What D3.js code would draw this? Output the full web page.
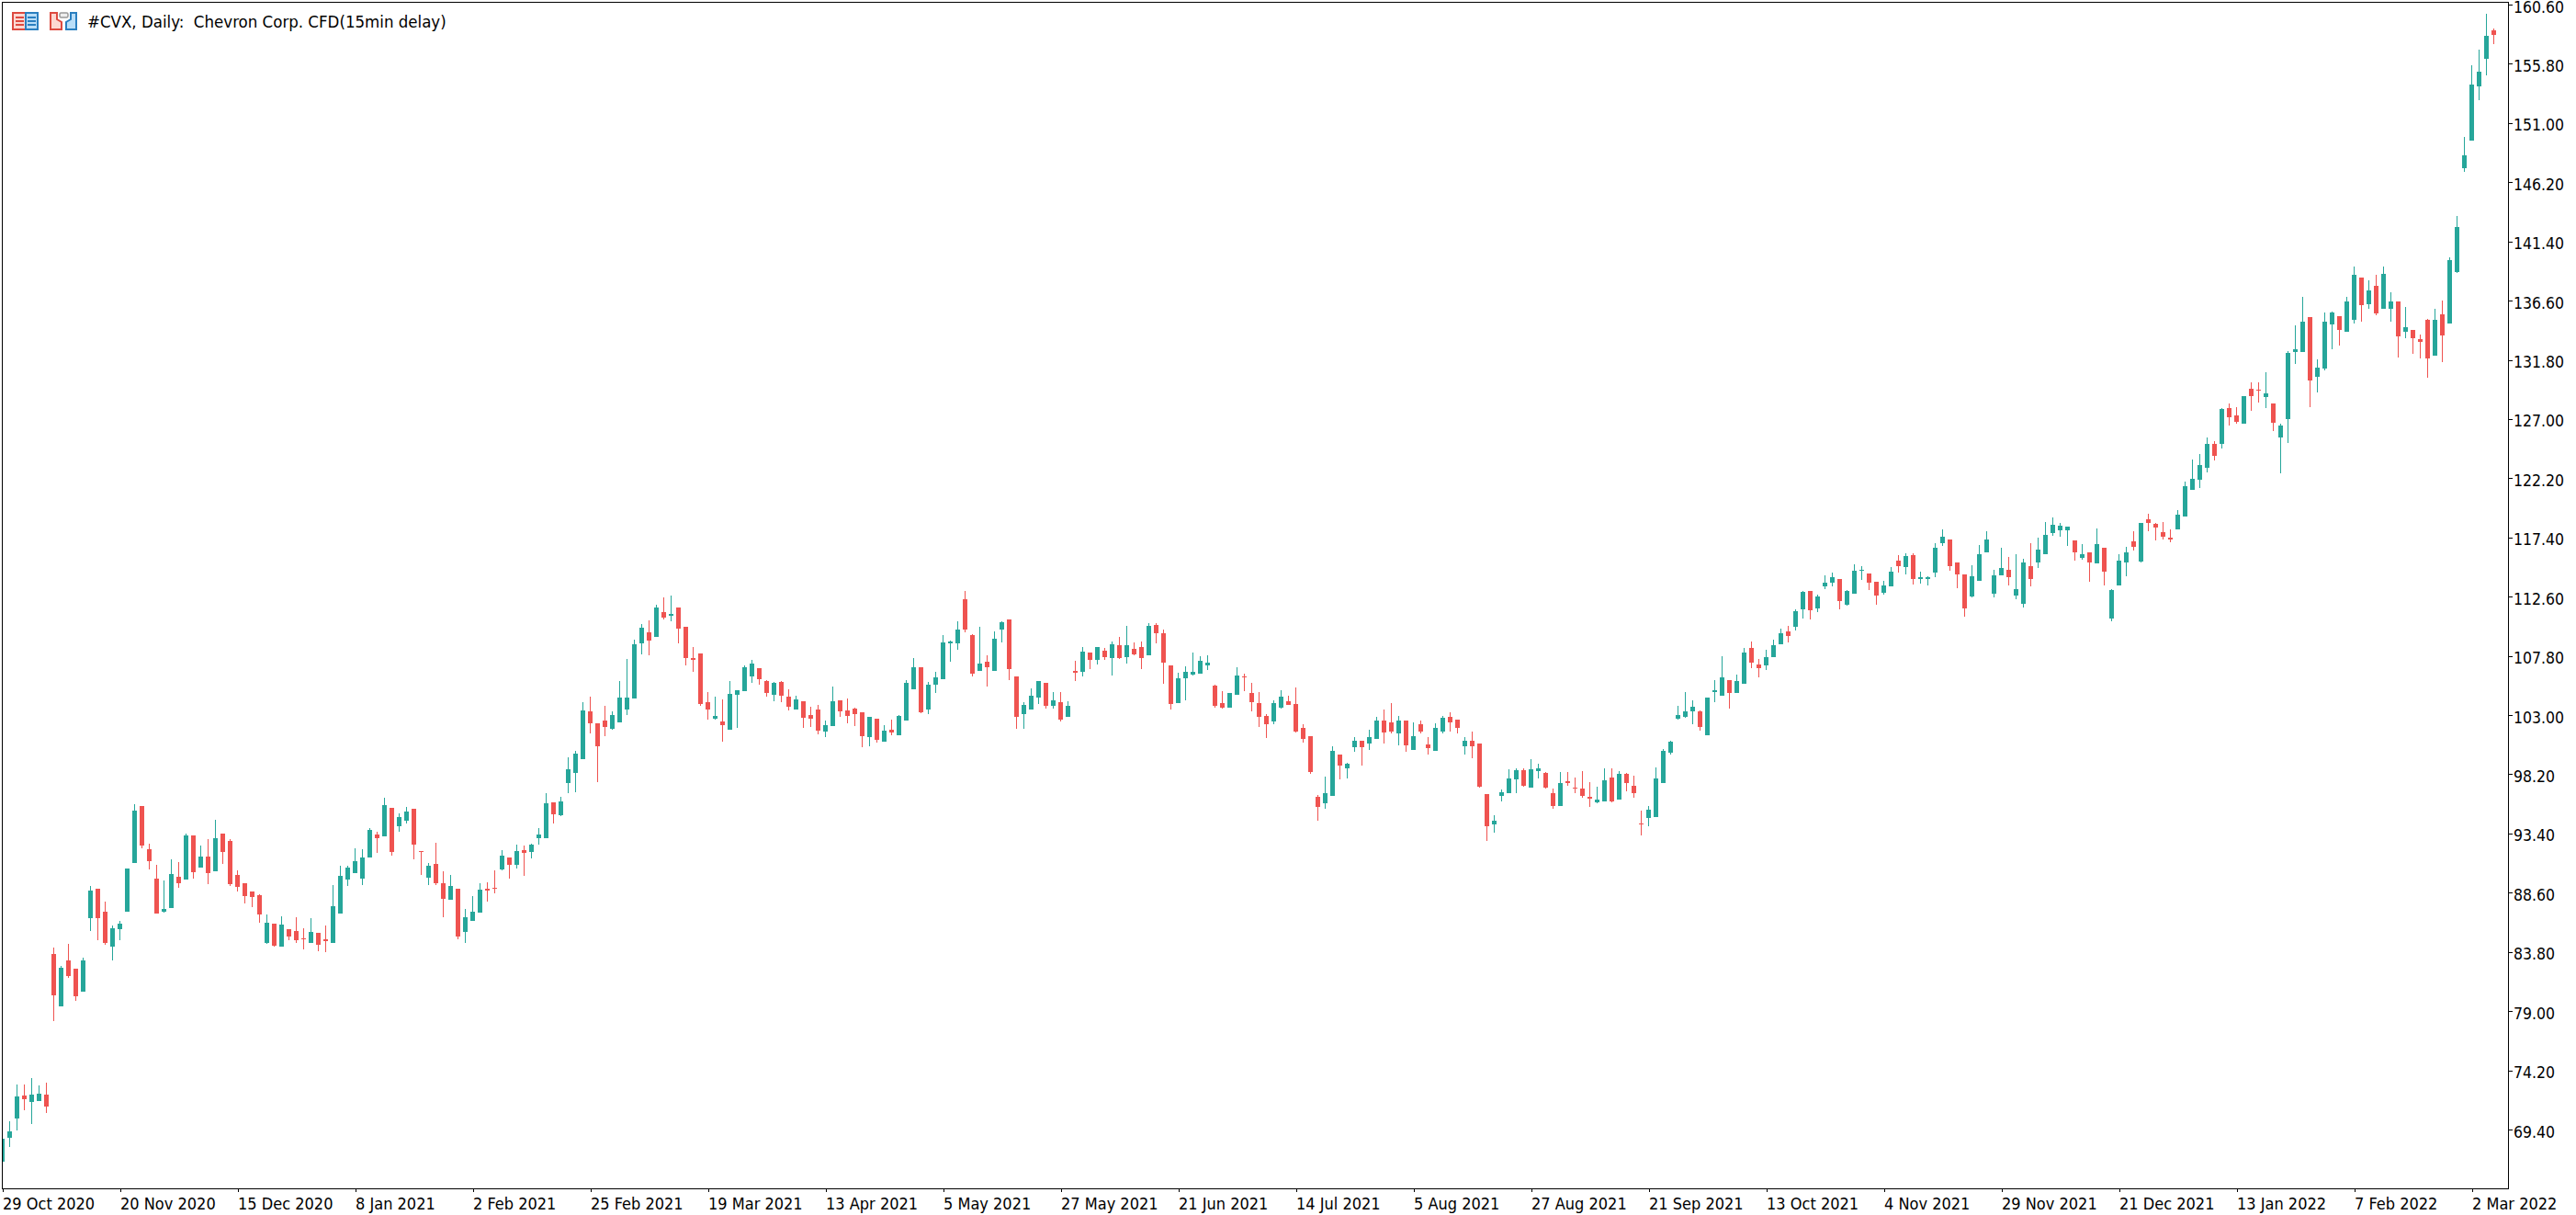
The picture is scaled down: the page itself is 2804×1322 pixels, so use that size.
<!DOCTYPE html>
<html>
<head>
<meta charset="utf-8">
<title>#CVX Daily</title>
<script src="https://cdn.jsdelivr.net/npm/d3@7/dist/d3.min.js"></script>
<style>
  html, body { margin: 0; padding: 0; background: #fff; overflow: hidden; }
  svg { display: block; }
  text { font-family: "DejaVu Sans Condensed", "DejaVu Sans", sans-serif; fill: #000; }
</style>
</head>
<body>
<svg id="chart" width="2804" height="1322"></svg>
<script>
// Daily OHLC prices for #CVX, oldest first.
const opens = [
66.78,68.72,70.29,72.15,71.63,71.70,72.22,83.62,79.38,83.10,
82.43,80.57,86.53,88.92,87.05,84.22,85.64,87.05,91.00,95.62,
92.12,89.74,87.05,87.35,89.88,89.66,93.24,90.63,91.52,90.33,
93.39,92.79,90.03,89.36,88.69,88.39,84.52,86.08,84.22,85.64,
85.49,84.89,84.52,85.34,84.82,84.52,86.90,89.66,90.18,89.74,
91.45,93.31,93.16,95.47,93.98,94.43,95.40,91.97,89.81,90.93,
89.36,88.02,88.91,85.41,86.30,86.97,88.91,88.99,90.48,91.45,
90.85,92.04,91.89,93.01,93.01,95.92,94.87,97.48,98.30,99.42,
103.29,102.33,102.55,101.88,102.40,103.44,104.34,108.81,109.70,109.33,
111.34,111.04,111.72,110.15,107.62,107.99,104.04,102.70,102.47,101.80,
104.64,104.93,106.13,106.80,105.75,104.64,105.68,104.49,103.44,104.11,
103.00,103.44,101.65,102.10,104.19,103.37,103.52,103.22,101.21,102.70,
100.83,101.80,101.36,102.55,105.08,106.87,103.44,105.45,105.90,108.81,
108.81,112.39,109.48,106.57,107.32,106.57,109.93,110.75,106.13,103.07,
103.44,104.41,105.60,103.74,104.04,102.85,106.57,106.50,108.06,107.47,
108.21,107.62,108.66,107.69,108.36,108.51,107.84,110.30,109.63,107.02,
103.96,105.98,106.27,106.35,107.02,105.38,103.96,103.59,104.64,106.13,
104.78,103.96,102.92,102.47,103.59,104.11,103.89,101.95,101.28,96.36,
95.84,96.44,99.79,98.67,100.39,100.91,100.69,101.06,102.55,102.40,
101.51,102.55,100.17,102.25,100.61,100.09,101.66,102.85,102.62,100.46,
100.91,100.69,96.59,94.13,96.44,96.66,97.78,98.53,97.11,98.45,
98.30,96.66,95.62,97.63,97.11,97.04,96.36,95.92,95.99,97.93,
96.14,98.23,97.26,94.20,94.65,94.73,97.48,99.94,102.70,102.85,
103.30,103.30,101.36,104.86,104.56,105.83,104.78,105.53,108.43,107.09,
107.02,107.69,108.73,109.78,110.15,111.56,113.05,111.64,113.43,113.73,
114.02,111.94,112.83,114.69,114.47,113.80,112.91,113.43,115.51,114.99,
115.96,114.02,114.02,114.54,116.93,117.23,115.36,114.40,112.61,113.87,
116.18,112.83,114.32,114.77,112.68,112.01,115.07,115.36,116.04,117.75,
117.97,117.97,117.15,115.74,116.18,115.29,116.56,110.82,113.50,115.36,
117.08,115.44,118.87,118.50,117.83,117.38,118.06,119.10,121.28,122.10,
123.08,125.00,124.95,127.86,127.26,126.65,129.42,129.35,128.75,128.29,
125.54,127.03,132.40,132.40,135.23,130.45,131.12,134.64,135.31,134.05,
135.07,138.44,136.28,137.77,135.90,135.97,136.56,134.05,134.25,133.51,
135.07,132.17,135.46,134.71,138.90,147.33,149.56,153.96,156.19,158.50];

const highs = [
68.65,70.06,73.04,73.04,73.56,72.97,73.19,84.15,82.66,84.44,
82.43,83.33,89.14,88.92,87.87,85.93,86.31,90.55,95.77,95.62,
92.57,90.85,89.59,91.30,91.08,93.39,93.24,92.42,92.94,94.50,
93.39,92.94,90.41,89.36,88.69,88.47,86.83,86.08,86.68,85.64,
86.61,85.71,86.53,85.34,85.93,89.21,90.78,90.78,92.19,92.12,
93.83,93.54,96.29,95.47,95.03,95.55,95.40,91.97,91.00,92.64,
90.33,90.03,88.91,87.27,88.32,89.36,89.43,90.40,92.04,91.45,
92.49,92.41,92.56,93.83,96.66,95.92,96.36,99.57,100.09,104.04,
104.49,102.33,103.74,103.29,105.75,107.54,109.11,110.37,110.67,111.94,
112.53,112.68,111.72,110.15,108.51,107.99,104.86,104.49,104.26,105.75,
105.01,107.02,107.47,106.80,105.83,105.68,105.75,105.08,104.56,104.11,
103.67,103.82,102.55,105.31,104.19,104.34,103.59,103.22,102.85,102.70,
102.18,102.62,103.00,105.83,107.62,106.87,105.68,106.50,109.48,109.03,
110.60,113.06,109.55,110.15,107.84,109.78,110.60,110.75,106.13,104.04,
105.16,105.75,105.60,104.86,104.86,104.11,107.39,108.51,108.06,108.51,
108.44,108.96,109.33,110.22,108.88,108.96,110.45,110.45,109.93,107.02,
106.42,106.95,108.06,107.77,107.84,105.45,104.93,104.78,106.87,106.35,
105.60,104.86,103.07,104.19,105.01,104.56,105.23,102.25,101.28,96.51,
98.00,100.46,99.79,99.12,101.21,100.91,101.80,102.85,103.44,103.97,
102.92,102.55,102.40,102.55,101.21,102.33,102.92,103.22,102.62,101.21,
101.66,100.69,96.59,94.87,96.96,98.60,98.67,98.67,99.42,99.05,
98.38,97.04,98.38,98.38,97.93,98.45,97.56,97.18,98.67,98.67,
98.45,98.30,98.08,95.25,95.62,98.75,100.24,100.91,103.74,104.86,
104.19,103.37,104.41,105.83,107.77,105.83,106.27,108.43,108.96,107.54,
108.29,109.10,110.00,110.22,111.56,113.05,113.05,112.76,114.32,114.54,
114.02,113.13,115.22,115.07,114.47,113.80,113.87,114.99,115.96,116.11,
116.11,114.62,114.25,116.93,118.05,117.23,115.36,114.40,115.14,116.78,
117.90,114.77,116.56,115.81,116.04,115.66,116.93,117.38,118.64,119.02,
118.57,118.27,117.15,116.85,116.18,118.12,116.56,113.20,116.04,116.63,
117.90,118.57,119.31,118.58,118.65,118.06,119.62,121.93,123.75,124.18,
125.47,125.24,127.91,128.29,127.98,128.88,129.94,129.94,130.76,128.29,
126.65,132.48,134.56,136.87,135.23,131.81,135.61,135.69,135.31,136.87,
139.34,138.44,138.21,138.67,139.34,137.26,136.56,136.05,134.25,133.82,
135.15,135.97,136.64,140.08,143.45,149.85,155.68,156.94,159.84,158.66];

const lows = [
66.78,67.98,69.32,70.96,69.84,71.70,70.73,78.18,79.38,81.69,
79.82,80.57,85.49,84.74,84.37,83.10,84.74,87.05,91.00,92.19,
90.48,86.90,86.98,87.35,88.99,89.66,89.74,90.63,89.29,90.33,
90.93,89.14,88.69,87.72,87.43,86.16,84.44,84.22,84.22,84.74,
84.52,84.00,84.52,83.85,83.77,84.52,86.90,89.14,90.18,89.21,
91.45,91.82,93.16,91.60,93.54,94.21,91.30,90.03,89.21,89.21,
86.60,88.02,84.81,84.51,86.30,86.97,87.87,88.54,90.40,89.73,
90.55,89.96,91.37,92.49,93.01,94.20,94.80,96.66,96.74,99.42,
101.51,97.56,101.28,101.80,102.40,103.00,104.34,107.91,107.84,109.33,
110.75,110.60,108.81,107.02,106.50,103.74,102.62,102.62,100.84,101.80,
101.95,104.93,105.60,105.46,104.49,104.11,104.04,103.37,103.44,101.95,
102.03,101.43,101.21,102.10,102.85,102.33,102.10,100.39,100.46,100.76,
100.83,101.36,101.36,102.55,105.08,103.14,103.07,104.78,105.90,107.32,
108.29,109.70,106.13,106.57,105.31,106.57,108.88,105.83,101.88,101.88,
103.44,103.89,103.52,103.52,102.47,102.85,105.75,106.13,106.72,107.09,
107.47,106.20,107.54,107.17,107.84,106.72,107.84,108.81,105.53,103.44,
103.96,104.19,106.20,106.35,106.65,103.59,103.52,103.59,104.64,104.93,
103.29,102.03,101.13,102.25,103.52,103.82,101.58,100.76,98.23,94.43,
95.40,96.44,97.78,97.86,100.02,98.90,100.17,101.06,100.69,101.51,
100.54,100.02,100.17,101.51,99.79,100.09,101.51,101.66,101.51,99.79,
99.49,97.11,92.79,93.46,95.99,96.66,96.66,97.18,97.11,97.86,
97.04,95.40,95.62,97.26,96.66,96.29,95.54,95.84,95.99,95.92,
96.14,96.81,96.29,93.23,93.98,94.73,97.48,99.79,102.62,102.77,
102.25,101.73,101.36,104.04,104.56,103.52,104.78,105.53,106.79,106.05,
106.65,107.69,108.73,108.88,109.85,110.82,110.74,111.34,113.20,113.43,
111.56,111.86,112.83,113.95,113.13,111.94,112.76,113.43,114.54,114.40,
113.58,113.65,113.50,114.17,116.71,114.69,113.28,110.97,112.53,113.87,
116.18,112.53,114.32,113.50,112.38,111.71,113.43,114.92,116.04,117.53,
117.45,116.71,115.51,115.59,113.80,115.29,113.50,110.60,113.50,114.25,
116.33,115.36,117.90,117.16,117.24,117.01,118.06,119.10,121.28,121.43,
122.69,123.67,124.64,126.44,126.65,126.65,127.70,128.37,127.86,126.06,
122.62,125.08,131.43,132.40,127.93,129.19,130.91,132.63,132.99,134.05,
134.71,134.87,135.97,135.38,135.90,134.87,132.02,133.58,132.25,131.94,
130.32,132.17,131.58,134.71,138.83,147.02,149.56,152.83,154.86,157.40];

const closes = [
68.65,69.24,72.07,71.85,72.22,72.30,71.25,80.27,82.51,81.84,
80.20,83.10,88.77,86.53,84.52,85.71,86.08,90.55,95.25,92.42,
91.15,86.90,87.28,90.11,89.36,93.24,90.26,91.52,90.18,93.01,
91.90,89.29,89.06,88.32,88.24,86.83,86.16,84.30,86.01,85.04,
84.74,84.82,85.41,84.37,84.67,87.50,89.96,90.63,91.15,91.45,
93.68,93.01,95.70,91.90,94.73,95.18,92.49,91.90,90.78,89.36,
88.09,89.14,85.04,86.60,87.05,88.84,88.76,88.91,91.59,90.85,
91.97,91.82,92.49,93.31,95.84,94.95,95.99,98.60,99.87,103.37,
102.33,100.46,102.03,103.00,104.41,104.41,108.73,110.08,109.03,111.72,
110.90,111.19,110.00,107.62,107.47,103.89,103.44,102.92,102.18,104.71,
105.01,106.87,107.17,105.90,104.78,105.60,104.56,103.67,104.26,102.77,
102.70,101.73,102.18,104.11,103.29,102.92,103.07,101.28,102.85,100.98,
101.73,101.58,102.92,105.60,106.87,103.22,105.45,106.05,108.88,108.96,
109.93,109.93,106.35,107.17,106.87,109.18,110.52,106.72,102.85,103.82,
104.56,105.75,103.74,104.19,102.62,103.74,106.42,108.14,107.47,108.51,
107.69,108.73,107.62,108.66,107.91,107.62,110.22,109.63,107.24,103.89,
105.98,106.50,106.50,107.39,107.24,103.74,103.59,104.78,106.20,106.05,
104.04,102.85,102.25,103.96,104.49,103.82,101.65,101.06,98.38,95.54,
96.66,100.09,98.90,99.05,100.91,100.39,101.21,102.55,101.58,101.66,
102.55,100.54,101.28,101.66,100.31,101.95,102.77,102.40,101.95,100.91,
100.46,97.18,93.98,94.43,96.74,97.86,98.53,97.26,98.60,98.67,
97.11,95.62,97.48,97.48,97.11,96.44,96.22,96.14,97.71,95.99,
98.23,97.48,96.66,94.13,95.32,97.86,100.09,100.84,103.00,103.30,
103.67,102.03,104.41,105.01,106.05,104.78,105.75,108.06,107.24,106.79,
107.69,108.66,109.63,109.40,111.41,112.98,111.49,112.61,113.73,114.17,
112.23,113.05,114.69,114.77,113.73,112.68,113.50,114.62,115.07,115.89,
114.02,114.17,114.17,116.56,117.45,115.07,114.40,111.64,114.25,116.04,
117.23,114.32,114.92,114.17,113.20,115.36,114.02,116.41,117.60,118.42,
118.35,118.27,116.18,116.04,115.36,116.85,114.62,113.13,115.51,116.18,
116.63,118.57,118.57,118.20,117.46,117.24,119.25,121.56,122.18,123.28,
125.00,124.05,127.78,127.11,126.80,128.88,128.83,129.27,129.11,126.72,
126.49,132.33,132.69,134.87,130.09,131.20,134.87,135.61,134.20,136.56,
138.67,136.20,137.46,135.54,138.75,136.51,133.69,134.41,133.58,133.22,
131.94,135.07,133.74,139.85,142.55,148.36,154.11,155.16,158.07,158.14];

// Labelled sessions on the time axis: one every sixteen bars.
const dateLabels = ["29 Oct 2020","20 Nov 2020","15 Dec 2020","8 Jan 2021","2 Feb 2021","25 Feb 2021","19 Mar 2021","13 Apr 2021","5 May 2021","27 May 2021","21 Jun 2021","14 Jul 2021","5 Aug 2021","27 Aug 2021","21 Sep 2021","13 Oct 2021","4 Nov 2021","29 Nov 2021","21 Dec 2021","13 Jan 2022","7 Feb 2022","2 Mar 2022"];
const barsPerLabel = 16;
const priceTicks = [160.6,155.8,151.0,146.2,141.4,136.6,131.8,127.0,122.2,117.4,112.6,107.8,103.0,98.2,93.4,88.6,83.8,79.0,74.2,69.4];
const chartTitle = "#CVX, Daily:  Chevron Corp. CFD(15min delay)";

const UP = "#26a69a", DOWN = "#ef5350";
const frame = { left: 2, top: 2, right: 2730, bottom: 1293 };

const svg = d3.select("#chart");
const x = d3.scaleLinear().domain([0, barsPerLabel]).range([2.5, 130.5]);
const y = d3.scaleLinear().domain([69.4, 160.6]).range([1229, 5]);

const candles = opens.map((o, i) => ({ i, o, h: highs[i], l: lows[i], c: closes[i] }));

svg.append("defs").append("clipPath").attr("id", "plot")
  .append("rect")
  .attr("x", frame.left).attr("y", frame.top)
  .attr("width", frame.right - frame.left).attr("height", frame.bottom - frame.top);

const plot = svg.append("g").attr("clip-path", "url(#plot)").attr("shape-rendering", "crispEdges");
const colour = d => d.c > d.o ? UP : DOWN;

plot.selectAll("rect.wick").data(candles).join("rect")
  .attr("class", "wick")
  .attr("x", d => x(d.i) - 0.5)
  .attr("width", 1)
  .attr("y", d => Math.round(y(d.h)))
  .attr("height", d => Math.max(1, Math.round(y(d.l)) - Math.round(y(d.h))))
  .attr("fill", colour);

plot.selectAll("rect.body").data(candles).join("rect")
  .attr("class", "body")
  .attr("x", d => x(d.i) - 2.5)
  .attr("width", 5)
  .attr("y", d => Math.round(y(Math.max(d.o, d.c))))
  .attr("height", d => Math.max(1, Math.round(y(Math.min(d.o, d.c))) - Math.round(y(Math.max(d.o, d.c)))))
  .attr("fill", colour);

// Frame around the plotting area.
svg.append("rect")
  .attr("x", frame.left + 0.5).attr("y", frame.top + 0.5)
  .attr("width", frame.right - frame.left).attr("height", frame.bottom - frame.top)
  .attr("fill", "none").attr("stroke", "#000").attr("shape-rendering", "crispEdges");

// Price scale on the right.
const yAxis = d3.axisRight(y).tickValues(priceTicks).tickSize(5).tickPadding(1).tickFormat(d3.format(".2f"));
const yG = svg.append("g").attr("transform", `translate(${frame.right},0)`).call(yAxis);
yG.select(".domain").remove();
yG.selectAll("line").attr("stroke", "#000").attr("shape-rendering", "crispEdges");
yG.selectAll("text")
  .attr("dy", null).attr("y", 8)
  .attr("font-family", null).attr("font-size", null)
  .style("font-size", "17.5px");

// Time scale along the bottom.
const xAxis = d3.axisBottom(x)
  .tickValues(dateLabels.map((_, k) => k * barsPerLabel))
  .tickSize(4)
  .tickFormat((_, k) => dateLabels[k]);
const xG = svg.append("g").attr("transform", `translate(0,${frame.bottom})`).call(xAxis);
xG.select(".domain").remove();
xG.selectAll("line").attr("stroke", "#000").attr("shape-rendering", "crispEdges");
xG.selectAll("text")
  .attr("dy", null).attr("y", 23)
  .style("text-anchor", "start")
  .style("font-size", "18px");

// Chart caption.
svg.append("text").attr("x", 95).attr("y", 30)
  .attr("xml:space", "preserve").style("white-space", "pre")
  .style("font-size", "18.5px")
  .text(chartTitle);

// Toolbar glyphs beside the caption.
const icons = svg.append("g");
const red = "#dd4a40", blue = "#2a7fc0", pink = "#fdd8d2", sky = "#b9def8";
const listIcon = icons.append("g").attr("transform", "translate(13,13)").attr("shape-rendering", "crispEdges");
listIcon.append("rect").attr("x", 1).attr("y", 1).attr("width", 14).attr("height", 18).attr("fill", pink).attr("stroke", red).attr("stroke-width", 2);
listIcon.append("rect").attr("x", 15).attr("y", 1).attr("width", 13).attr("height", 18).attr("fill", sky).attr("stroke", blue).attr("stroke-width", 2);
[6, 10, 14].forEach(ly => {
  listIcon.append("rect").attr("x", 4).attr("y", ly - 1).attr("width", 9).attr("height", 2).attr("fill", red);
  listIcon.append("rect").attr("x", 17).attr("y", ly - 1).attr("width", 9).attr("height", 2).attr("fill", blue);
});
const toolIcon = icons.append("g").attr("transform", "translate(54,13)");
toolIcon.append("path").attr("d", "M1 1H8V8L13 11V19H1Z").attr("fill", pink).attr("stroke", red).attr("stroke-width", 2);
toolIcon.append("path").attr("d", "M29 1H23V8L18 11V19H29Z").attr("fill", sky).attr("stroke", blue).attr("stroke-width", 2);
toolIcon.append("rect").attr("x", 11).attr("y", 1).attr("width", 9).attr("height", 5).attr("rx", 1.5).attr("fill", "#eee").attr("stroke", "#999").attr("stroke-width", 1.5);
</script>
</body>
</html>
